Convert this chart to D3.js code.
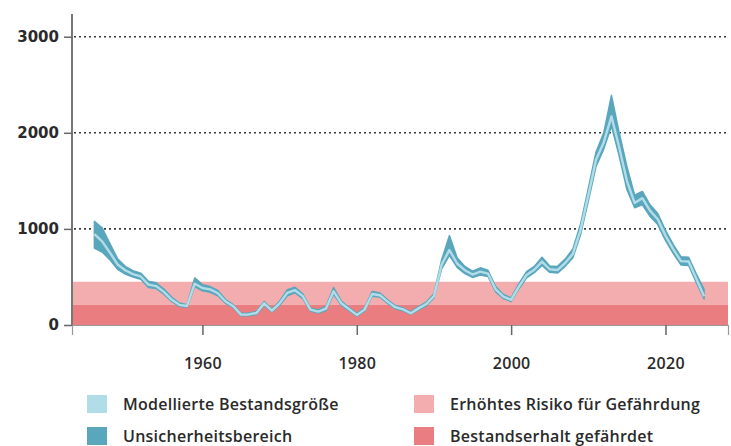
<!DOCTYPE html>
<html><head><meta charset="utf-8">
<script src="https://cdn.jsdelivr.net/npm/d3@7"></script>
<style>
html,body{margin:0;padding:0;background:#fff;}
svg{display:block;font-family:"Open Sans",sans-serif;}
</style></head>
<body><svg id="c" width="731" height="446"></svg>
<script>
const years = d3.range(1946, 2026);
const centerValues = [945,870,755,630,570,530,505,420,405,345,265,210,198,430,385,370,330,245,195,108,
  110,125,225,150,225,335,362,300,160,140,170,350,226,165,105,160,322,310,243,185,
  162,122,173,218,300,630,780,640,570,525,555,535,370,295,262,400,520,575,660,580,
  572,645,740,990,1350,1720,1900,2170,1850,1500,1270,1320,1190,1100,930,790,665,660,480,300];
const lowerValues = [800,760,680,580,530,500,475,390,380,320,245,195,185,400,355,340,305,225,180,95,
  97,110,205,135,205,305,335,275,145,125,150,320,205,150,92,145,300,290,225,170,
  148,110,158,200,280,585,725,600,535,495,520,505,345,275,245,375,490,545,620,548,
  540,610,700,940,1290,1650,1830,2070,1760,1410,1220,1250,1130,1045,880,745,625,620,440,270];
const upperValues = [1080,1010,850,690,610,565,540,455,440,375,290,228,212,490,420,400,360,265,212,122,
  124,140,245,167,248,368,392,325,178,157,192,390,248,182,120,178,350,333,262,203,
  178,136,190,238,325,680,930,700,610,560,595,570,400,318,282,430,555,610,705,615,
  610,685,790,1050,1420,1800,2000,2390,2000,1650,1350,1390,1250,1160,985,840,710,705,530,370];
const yTicks = [0,1000,2000,3000];
const xTicks = [1960,1980,2000,2020];
const riskBands = [
  {from:0, to:210, label:"Bestandserhalt gefährdet"},
  {from:210, to:450, label:"Erhöhtes Risiko für Gefährdung"}
];
const legendLabels = ["Modellierte Bestandsgröße","Unsicherheitsbereich","Erhöhtes Risiko für Gefährdung","Bestandserhalt gefährdet"];

const C = {line:"#b0dde8", band:"#5aa6bd", light:"#f3adae", dark:"#ea7d80"};
const svg = d3.select("#c");
const x = d3.scaleLinear().domain([1943.1, 2028.1]).range([72, 728]);
const y = d3.scaleLinear().domain([0, 3236]).range([325, 14]);

// risk bands
svg.append("rect").attr("x", x(1943.1)).attr("width", x(2028.1)-x(1943.1))
  .attr("y", y(riskBands[1].to)).attr("height", y(riskBands[1].from)-y(riskBands[1].to)).attr("fill", C.light);
svg.append("rect").attr("x", x(1943.1)).attr("width", x(2028.1)-x(1943.1))
  .attr("y", y(riskBands[0].to)).attr("height", y(riskBands[0].from)-y(riskBands[0].to)).attr("fill", C.dark);

// grid lines
svg.append("g").selectAll("line").data(yTicks.filter(d=>d>0)).join("line")
  .attr("x1", 74).attr("x2", 728).attr("y1", d=>y(d)).attr("y2", d=>y(d))
  .attr("stroke", "#3a3a3a").attr("stroke-width", 1.6).attr("stroke-dasharray", "2,3");

const data = years.map((yr,i)=>({yr, c:centerValues[i], lo:lowerValues[i], hi:upperValues[i]}));
svg.append("path").datum(data)
  .attr("d", d3.area().x(d=>x(d.yr)).y0(d=>y(d.lo)).y1(d=>y(d.hi)))
  .attr("fill", C.band).attr("stroke", C.band).attr("stroke-width", 1.5).attr("stroke-linejoin","round");
svg.append("path").datum(data)
  .attr("d", d3.line().x(d=>x(d.yr)).y(d=>y(d.c)))
  .attr("fill", "none").attr("stroke", C.line).attr("stroke-width", 2.4).attr("stroke-linejoin","round");

// y axis
const ya = svg.append("g").attr("transform", "translate(72,0)")
  .call(d3.axisLeft(y).tickValues(yTicks).tickSize(8).tickPadding(5).tickFormat(d3.format("d")));
ya.select(".domain").attr("d", `M0,${y(3236)}V${y(0)}`).attr("stroke", "#777").attr("stroke-width", 2);
ya.selectAll(".tick line").attr("stroke", "#666").attr("stroke-width", 1.5);
ya.selectAll(".tick text").attr("font-family", "DejaVu Sans, sans-serif").attr("font-size", 15)
  .attr("font-weight", 700).attr("fill", "#2a2a2a");

// x axis
const xa = svg.append("g").attr("transform", "translate(0,325)")
  .call(d3.axisBottom(x).tickValues(xTicks).tickSize(10).tickPadding(23).tickFormat(d3.format("d")));
xa.select(".domain").attr("stroke", "#999").attr("stroke-width", 1.2);
xa.selectAll(".tick line").attr("stroke", "#666").attr("stroke-width", 1.5);
xa.selectAll(".tick text").attr("font-family", "Open Sans, sans-serif").attr("font-size", 16)
  .attr("font-weight", 600).attr("letter-spacing", 0.3).attr("fill", "#2a2a2a");

// legend
const legendColors = [C.line, C.band, C.light, C.dark];
const legPos = [[87,395],[87,427],[414,395],[414,427]];
const lg = svg.append("g").selectAll("g").data(legendLabels).join("g")
  .attr("transform", (d,i)=>`translate(${legPos[i][0]},${legPos[i][1]})`);
lg.append("rect").attr("width", 20).attr("height", 18).attr("fill", (d,i)=>legendColors[i]);
lg.append("text").attr("x", 36).attr("y", 14.5).text(d=>d)
  .attr("font-size", 16).attr("font-weight", 600).attr("letter-spacing", 0.25).attr("fill", "#2a2a2a");
</script></body></html>
